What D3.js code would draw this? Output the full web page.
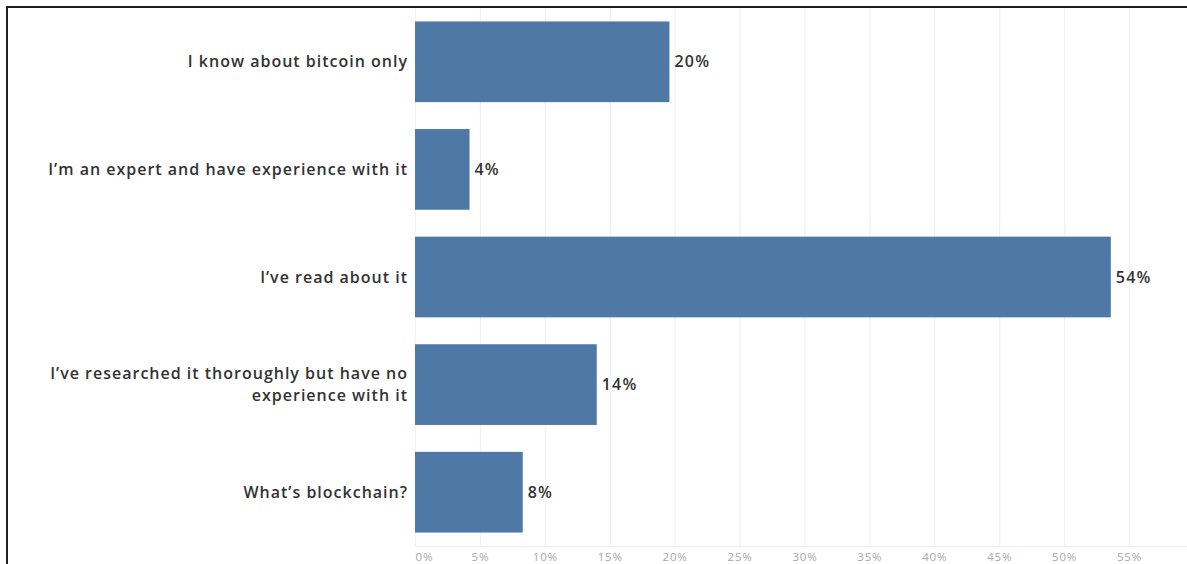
<!DOCTYPE html>
<html>
<head>
<meta charset="utf-8">
<script src="https://cdn.jsdelivr.net/npm/d3@7"></script>
<style>
  html, body { margin: 0; padding: 0; background: #fff; }
  svg { display: block; }
</style>
</head>
<body>
<svg id="chart" width="1187" height="564"></svg>
<script>
// Survey: familiarity with blockchain (share of respondents, %)
const categories = [
  ["I know about bitcoin only"],
  ["I\u2019m an expert and have experience with it"],
  ["I\u2019ve read about it"],
  ["I\u2019ve researched it thoroughly but have no", "experience with it"],
  ["What\u2019s blockchain?"]
];
const shares = [19.6, 4.2, 53.6, 14.0, 8.3];
const tickValues = [0, 5, 10, 15, 20, 25, 30, 35, 40, 45, 50, 55];

const W = 1187, H = 564;
const plot = { left: 415, right: 1129, top: 8, bottom: 546 };

const svg = d3.select("#chart");
const font = "'Open Sans', 'DejaVu Sans', sans-serif";

const x = d3.scaleLinear().domain([0, 55]).range([plot.left, plot.right]);
const y = d3.scaleBand()
  .domain(d3.range(categories.length))
  .range([plot.top, plot.bottom])
  .paddingInner(0.25)
  .paddingOuter(0.125);

// vertical gridlines
svg.append("g")
  .selectAll("line")
  .data(tickValues)
  .join("line")
  .attr("x1", d => x(d) + 0.5).attr("x2", d => x(d) + 0.5)
  .attr("y1", plot.top).attr("y2", plot.bottom)
  .attr("stroke", "#f0f0f0").attr("stroke-width", 1.2);

// bottom axis baseline
svg.append("line")
  .attr("x1", plot.left).attr("x2", W)
  .attr("y1", plot.bottom + 0.5).attr("y2", plot.bottom + 0.5)
  .attr("stroke", "#f0f0f0").attr("stroke-width", 1);

// bars
svg.append("g")
  .selectAll("rect")
  .data(shares)
  .join("rect")
  .attr("x", x(0))
  .attr("y", (d, i) => y(i))
  .attr("width", d => x(d) - x(0))
  .attr("height", y.bandwidth())
  .attr("fill", "#4e79a7");

// value labels
svg.append("g")
  .selectAll("text")
  .data(shares)
  .join("text")
  .attr("x", d => x(d) + 5)
  .attr("y", (d, i) => y(i) + y.bandwidth() / 2)
  .attr("dy", "0.35em")
  .attr("font-family", font)
  .attr("font-size", 16)
  .attr("font-weight", 600)
  .attr("letter-spacing", 1.2)
  .attr("fill", "#333")
  .text(d => d3.format(".0f")(d) + "%");

// category labels (right-aligned against the bars)
const cat = svg.append("g")
  .selectAll("text")
  .data(categories)
  .join("text")
  .attr("x", plot.left - 7)
  .attr("y", (d, i) => y(i) + y.bandwidth() / 2)
  .attr("text-anchor", "end")
  .attr("font-family", font)
  .attr("font-size", 16)
  .attr("font-weight", 600)
  .attr("letter-spacing", 1)
  .attr("fill", "#333");
cat.selectAll("tspan")
  .data(d => d.map((line, j) => ({ line, j, n: d.length })))
  .join("tspan")
  .attr("x", plot.left - 7)
  .attr("dy", d => d.j === 0 ? (0.35 - (d.n - 1) * 0.68) + "em" : "1.36em")
  .text(d => d.line);

// x axis tick labels
const axis = d3.axisBottom(x)
  .tickValues(tickValues)
  .tickFormat(d => d + "%")
  .tickSize(0)
  .tickPadding(7);
const ax = svg.append("g")
  .attr("transform", `translate(0,${plot.bottom})`)
  .call(axis);
ax.select(".domain").remove();
ax.selectAll("text")
  .attr("font-family", font)
  .attr("font-size", 11.5)
  .attr("letter-spacing", 0.8)
  .attr("fill", "#a8a8a8")
  .attr("text-anchor", d => d === 0 ? "start" : "middle");

// frame: top and left rules
svg.append("line")
  .attr("x1", 6).attr("x2", W).attr("y1", 7).attr("y2", 7)
  .attr("stroke", "#231f1c").attr("stroke-width", 2);
svg.append("line")
  .attr("x1", 7).attr("x2", 7).attr("y1", 6).attr("y2", H)
  .attr("stroke", "#231f1c").attr("stroke-width", 2);
</script>
</body>
</html>
